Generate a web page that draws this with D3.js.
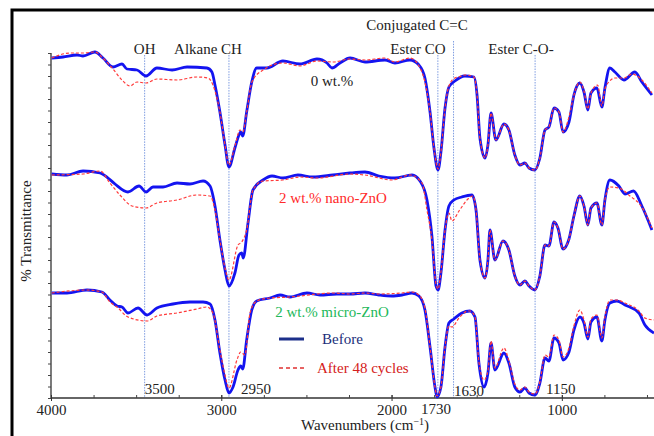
<!DOCTYPE html>
<html><head><meta charset="utf-8">
<script src="https://cdn.jsdelivr.net/npm/d3@7/dist/d3.min.js"></script>
<style>body{margin:0;background:#fff}svg{display:block}svg text{font-family:"Liberation Serif","DejaVu Serif",serif}</style>
</head><body><svg id="c" width="654" height="436"></svg>
<script>
// ---- data: [wavenumber (cm-1), relative transmittance] ----
const sampleNames = ["0 wt.%", "2 wt.% nano-ZnO", "2 wt.% micro-ZnO"];
const sampleOffsets = [225, 106, 0];
const xTicks = [4000, 3000, 2000, 1000];
const markerWavenumbers = [3450, 2955, 1728, 1636, 1157];
const peakLabels = ["3500", "2950", "1730", "1630", "1150"];
const groupLabels = ["OH", "Alkane CH", "Ester CO", "Conjugated C=C", "Ester C-O-"];
const legendLabels = ["Before", "After 48 cycles"];

const before0 = [[3996,115],[3930,116],[3847,118],[3812,117],[3742,121],[3695,115],[3636,106],[3583,109],[3554,104],[3495,103],[3442,97],[3378,105],[3289,103],[3201,106],[3084,105],[3055,101],[3037,88],[3008,61],[2978,28],[2955,6],[2920,25],[2896,38],[2886,41],[2874,37],[2851,61],[2821,91],[2792,105],[2733,105],[2638,112],[2538,109],[2438,114],[2379,110],[2350,105],[2303,110],[2244,115],[2156,111],[2039,113],[1980,110],[1892,113],[1839,108],[1804,95],[1774,61],[1751,25],[1727,3],[1710,21],[1686,65],[1663,86],[1628,92],[1569,97],[1516,96],[1498,78],[1481,35],[1451,15],[1434,28],[1416,60],[1387,33],[1340,49],[1311,43],[1276,18],[1246,8],[1217,10],[1193,5],[1158,3],[1129,15],[1099,43],[1076,46],[1046,65],[1017,61],[993,41],[958,51],[929,78],[894,90],[870,81],[847,63],[829,80],[794,85],[765,66],[747,85],[718,105],[688,101],[635,93],[571,101],[530,91],[471,78]];
const after0 = [[3996,115],[3888,120],[3812,120],[3742,121],[3695,115],[3636,104],[3583,93],[3536,87],[3495,91],[3442,90],[3378,94],[3260,93],[3143,96],[3078,95],[3049,88],[3008,61],[2978,28],[2955,8],[2920,27],[2890,43],[2873,41],[2851,61],[2820,91],[2755,103],[2638,110],[2538,107],[2438,112],[2344,111],[2244,114],[2156,113],[2039,115],[1980,111],[1892,115],[1839,107],[1804,91],[1774,61],[1751,25],[1727,4],[1710,21],[1686,65],[1663,87],[1628,95],[1604,96],[1569,98],[1516,96],[1498,78],[1481,35],[1451,15],[1434,28],[1416,60],[1387,33],[1340,49],[1311,43],[1276,18],[1246,8],[1217,10],[1193,5],[1158,3],[1129,15],[1099,43],[1076,46],[1046,65],[1017,61],[993,41],[958,56],[929,78],[894,91],[870,82],[847,64],[829,80],[790,88],[765,67],[747,84],[718,92],[688,95],[635,95],[588,99],[530,93],[471,80]];
const before1 = [[3996,118],[3906,117],[3812,121],[3712,119],[3665,114],[3624,108],[3548,100],[3483,106],[3442,100],[3401,105],[3342,105],[3260,109],[3184,108],[3107,111],[3066,106],[3037,86],[3008,52],[2978,22],[2955,6],[2920,19],[2896,37],[2880,39],[2871,34],[2843,69],[2814,102],[2755,112],[2702,116],[2638,114],[2550,117],[2462,115],[2344,117],[2244,119],[2156,120],[2074,116],[1980,114],[1880,117],[1833,111],[1792,92],[1763,56],[1739,6],[1727,2],[1710,19],[1686,62],[1663,86],[1634,92],[1587,95],[1528,97],[1504,82],[1481,32],[1451,14],[1434,32],[1422,62],[1393,32],[1346,51],[1311,42],[1276,16],[1246,7],[1217,11],[1193,6],[1158,2],[1129,16],[1099,47],[1076,46],[1046,70],[1023,64],[993,43],[958,53],[929,76],[894,96],[870,86],[847,67],[829,84],[794,89],[765,67],[747,92],[718,112],[665,106],[629,98],[579,101],[530,86],[471,62]];
const after1 = [[3996,117],[3812,118],[3712,121],[3654,109],[3595,97],[3524,86],[3442,84],[3378,89],[3260,92],[3143,97],[3066,96],[3037,82],[3008,52],[2978,24],[2955,12],[2902,47],[2880,50],[2851,62],[2814,102],[2755,111],[2638,112],[2538,115],[2438,114],[2244,118],[2156,117],[1998,112],[1892,117],[1821,109],[1792,82],[1763,52],[1739,8],[1727,3],[1710,20],[1686,62],[1663,79],[1645,71],[1604,81],[1545,94],[1522,96],[1504,82],[1481,32],[1451,14],[1434,32],[1422,62],[1393,32],[1346,51],[1311,42],[1276,16],[1246,7],[1217,11],[1193,6],[1158,2],[1129,16],[1099,47],[1076,46],[1046,70],[1023,64],[993,43],[958,53],[929,76],[894,96],[870,86],[847,67],[829,84],[794,89],[765,67],[747,92],[718,105],[665,104],[600,96],[530,85],[471,64]];
const before2 = [[3996,105],[3906,105],[3789,108],[3701,106],[3654,98],[3612,92],[3583,91],[3548,85],[3489,90],[3436,83],[3378,90],[3284,94],[3184,96],[3107,96],[3066,94],[3037,78],[3008,45],[2978,18],[2955,5],[2931,11],[2902,28],[2886,32],[2874,29],[2851,58],[2821,88],[2792,97],[2714,100],[2655,103],[2597,101],[2497,105],[2420,103],[2321,104],[2244,104],[2156,105],[2074,103],[1998,102],[1939,103],[1880,105],[1839,102],[1804,88],[1774,51],[1745,11],[1733,1],[1710,11],[1686,51],[1663,75],[1634,79],[1587,85],[1540,87],[1510,81],[1487,35],[1457,11],[1434,25],[1416,55],[1393,28],[1340,45],[1311,35],[1276,11],[1246,6],[1217,10],[1193,5],[1158,3],[1129,15],[1099,40],[1076,37],[1046,60],[1017,55],[993,38],[958,46],[929,68],[894,81],[870,75],[847,59],[829,76],[794,81],[765,57],[747,78],[718,95],[677,97],[629,93],[547,85],[512,73],[459,65]];
const after2 = [[3996,105],[3789,108],[3701,106],[3654,96],[3612,91],[3548,81],[3436,77],[3378,82],[3260,85],[3143,89],[3084,91],[3049,85],[3008,48],[2978,23],[2955,10],[2908,38],[2886,46],[2861,43],[2831,85],[2792,97],[2714,100],[2597,101],[2538,102],[2438,104],[2344,105],[2244,104],[2156,105],[2074,104],[1939,105],[1880,106],[1839,103],[1804,90],[1774,51],[1745,11],[1733,2],[1710,11],[1686,51],[1663,72],[1645,71],[1604,80],[1551,87],[1540,87],[1510,81],[1487,36],[1457,18],[1434,27],[1416,57],[1393,30],[1340,50],[1311,37],[1276,14],[1246,8],[1217,11],[1193,6],[1158,4],[1129,16],[1099,43],[1076,41],[1046,63],[1017,58],[993,41],[958,50],[929,72],[894,88],[870,78],[847,61],[829,79],[794,83],[765,60],[747,81],[718,98],[677,98],[629,95],[547,87],[512,80],[459,78]];
const beforeSeries = [before0, before1, before2];
const afterSeries = [after0, after1, after2];

// ---- drawing ----
const FONT = "Liberation Serif, DejaVu Serif, serif";
const svg = d3.select("#c");
const x = d3.scaleLinear().domain([4000, 400]).range([51, 664]);
const y = d3.scaleLinear().domain([0, 345]).range([398, 53]);
const font = 15;

svg.append("defs").append("clipPath").attr("id","clip")
  .append("rect").attr("x",51).attr("y",20).attr("width",603).attr("height",380);

// outer frame
svg.append("rect").attr("x",12).attr("y",10).attr("width",700).attr("height",500)
  .attr("fill","none").attr("stroke","#000").attr("stroke-width",3);

// marker lines
const markerTops = [55, 55, 55, 41, 55];
markerWavenumbers.forEach((w,i)=>{
  svg.append("line").attr("x1",x(w)).attr("x2",x(w)).attr("y1",markerTops[i]).attr("y2",y(0))
    .attr("stroke","#7d9be0").attr("stroke-width",1).attr("stroke-dasharray","1.5,1.2");
});

// axes
const gx = svg.append("g").attr("transform",`translate(0,${y(0)})`);
gx.call(d3.axisBottom(x).tickValues(d3.range(4000, 399, -250)).tickSize(-3).tickFormat(""));
gx.selectAll(".tick line").attr("stroke","#444");
gx.select(".domain").attr("stroke","#333").attr("stroke-width",1.3).attr("d",`M51,0H664`);
const gx2 = svg.append("g").attr("transform",`translate(0,${y(0)})`);
gx2.call(d3.axisBottom(x).tickValues(xTicks).tickFormat(d3.format("d")).tickSizeInner(3).tickSizeOuter(0).tickPadding(3));
gx2.attr("font-family", FONT);
gx2.select(".domain").remove();
gx2.selectAll(".tick line").attr("stroke","#333").attr("y1",-3);
gx2.selectAll(".tick text").attr("font-size",font).attr("fill","#222").attr("font-family",FONT);

const gy = svg.append("g").attr("transform","translate(51,0)");
gy.call(d3.axisLeft(y).tickValues(d3.range(0, 346, 11.5)).tickSize(3).tickFormat(""));
gy.select(".domain").attr("stroke","#333").attr("stroke-width",1.3).attr("d","M0,53V398");
gy.selectAll(".tick line").attr("stroke","#444");

// curves
const line = (off)=>d3.line().x(d=>x(d[0])).y(d=>y(d[1]+off)).curve(d3.curveMonotoneX);
const plot = svg.append("g").attr("clip-path","url(#clip)");
beforeSeries.forEach((s,i)=>{
  plot.append("path").datum(s).attr("d",line(sampleOffsets[i])).attr("fill","none")
    .attr("stroke","#1414f0").attr("stroke-width",2.8).attr("stroke-linejoin","round");
});
afterSeries.forEach((s,i)=>{
  plot.append("path").datum(s).attr("d",line(sampleOffsets[i])).attr("fill","none")
    .attr("stroke","#ff3b3b").attr("stroke-width",1.2).attr("stroke-dasharray","3,2");
});

// texts
const txt = (t,xx,yy,opt={})=>svg.append("text").text(t).attr("x",xx).attr("y",yy)
  .attr("font-family",FONT)
  .attr("font-size",opt.size||font).attr("fill",opt.fill||"#222").attr("text-anchor",opt.anchor||"middle");

txt(groupLabels[0], x(markerWavenumbers[0]), 54);
txt(groupLabels[1], 208, 54);
txt(groupLabels[2], 418, 54);
txt(groupLabels[3], 417, 30);
txt(groupLabels[4], 521, 54);

txt(peakLabels[0], x(markerWavenumbers[0]), 394, {anchor:"start"});
txt(peakLabels[1], 241, 394, {anchor:"start"});
txt(peakLabels[2], 436, 414);
txt(peakLabels[3], 454, 396, {anchor:"start"});
txt(peakLabels[4], 546, 394, {anchor:"start"});

const sampleColors = ["#222", "#ff2a2a", "#22b85a"];
txt(sampleNames[0], 332, 86, {fill:sampleColors[0]});
txt(sampleNames[1], 333, 203, {fill:sampleColors[1]});
txt(sampleNames[2], 332, 317, {fill:sampleColors[2]});

// legend
svg.append("line").attr("x1",279).attr("x2",304).attr("y1",339).attr("y2",339)
  .attr("stroke","#1c2f8a").attr("stroke-width",3);
txt(legendLabels[0], 322, 344, {anchor:"start", fill:"#1c2f7a"});
svg.append("line").attr("x1",279).attr("x2",305).attr("y1",368).attr("y2",368)
  .attr("stroke","#e03030").attr("stroke-width",1.3).attr("stroke-dasharray","4,3");
txt(legendLabels[1], 317, 373, {anchor:"start", fill:"#d42020"});

// axis titles
const t = svg.append("text").attr("x",365).attr("y",430).attr("text-anchor","middle")
  .attr("font-family",FONT).attr("font-size",font).attr("fill","#222");
t.append("tspan").text("Wavenumbers (cm");
t.append("tspan").text("−1").attr("font-size",10).attr("dy",-5);
t.append("tspan").text(")").attr("dy",5);
svg.append("text").text("% Transmittance").attr("transform","translate(31,231) rotate(-90)")
  .attr("font-family",FONT).attr("text-anchor","middle").attr("font-size",font).attr("fill","#222");
</script></body></html>
